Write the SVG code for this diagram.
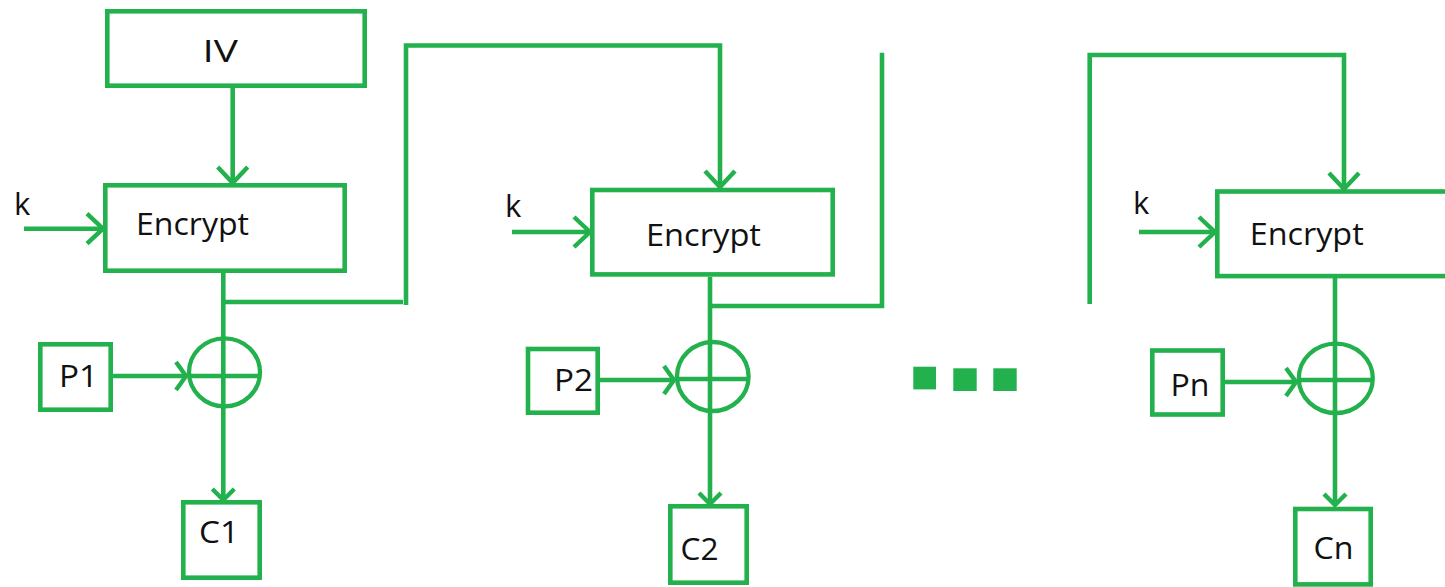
<svg xmlns="http://www.w3.org/2000/svg" width="1445" height="587" viewBox="0 0 1445 587">
<style>
.box{fill:none;stroke:#22b14c;stroke-width:4.6}
.ln{fill:none;stroke:#22b14c;stroke-width:4.6}
.xor{fill:none;stroke:#22b14c;stroke-width:4.3}
.ah{fill:none;stroke:#22b14c;stroke-width:4.4;stroke-linejoin:miter}
.t{font-family:"Open Sans",Lato,"Liberation Sans",sans-serif;font-size:31px;fill:#111}
.dot{fill:#22b14c}
</style>
<defs>
<marker id="big" markerUnits="userSpaceOnUse" viewBox="-30 -30 60 60" markerWidth="60" markerHeight="60" refX="0" refY="0" orient="auto" overflow="visible">
<path class="ah" d="M-17,-15 L-1,0 L-17,15"/>
</marker>
<marker id="sm" markerUnits="userSpaceOnUse" viewBox="-30 -30 60 60" markerWidth="60" markerHeight="60" refX="0" refY="0" orient="auto" overflow="visible">
<path class="ah" d="M-11,-14 L-1,0 L-11,14"/>
</marker>
<marker id="cd" markerUnits="userSpaceOnUse" viewBox="-30 -30 60 60" markerWidth="60" markerHeight="60" refX="0" refY="0" orient="auto" overflow="visible">
<path class="ah" d="M-12,-11 L-1,0 L-12,11"/>
</marker>
</defs>
<rect width="1445" height="587" fill="#fff"/>

<g id="connectors">
<path class="ln" d="M232.7,88 V184" marker-end="url(#big)"/>
<path class="ln" d="M24,228.7 H104" marker-end="url(#big)"/>
<path class="ln" d="M223.3,273 V501" marker-end="url(#cd)"/>
<path class="ln" d="M223,302 H403"/>
<path class="ln" d="M406,305 V45.5 H720 V188" marker-end="url(#big)"/>
<path class="ln" d="M113,376 H187" marker-end="url(#sm)"/>
<path class="ln" d="M512,232 H591" marker-end="url(#big)"/>
<path class="ln" d="M710,276.7 V505" marker-end="url(#cd)"/>
<path class="ln" d="M710,306 H882 V52.7"/>
<path class="ln" d="M600,380 H675" marker-end="url(#sm)"/>
<path class="ln" d="M1089.7,304 V55 H1344 V190" marker-end="url(#big)"/>
<path class="ln" d="M1139,232 H1216" marker-end="url(#big)"/>
<path class="ln" d="M1335,278 V506" marker-end="url(#cd)"/>
<path class="ln" d="M1225,382 H1297" marker-end="url(#sm)"/>
</g>

<g id="iv">
<rect class="box" x="107.3" y="11.3" width="257.4" height="74.4"/>
<text class="t" x="202.5" y="62" textLength="35.5" lengthAdjust="spacingAndGlyphs">IV</text>
</g>

<g id="enc1">
<rect class="box" x="105.3" y="185.3" width="239.4" height="85.4"/>
<text class="t" x="136" y="235" textLength="113" lengthAdjust="spacingAndGlyphs">Encrypt</text>
</g>
<g id="k1"><text class="t" x="14" y="215">k</text></g>
<g id="xor1">
<ellipse class="xor" cx="224.5" cy="372.3" rx="35.5" ry="34"/>
<path class="xor" d="M189,376 H260"/>
</g>
<g id="p1">
<rect class="box" x="40.3" y="344.3" width="70.4" height="65.4"/>
<text class="t" x="59" y="387.3" textLength="39" lengthAdjust="spacingAndGlyphs">P1</text>
</g>
<g id="c1">
<rect class="box" x="183.3" y="502.3" width="76.4" height="75.4"/>
<text class="t" x="199" y="543.3" textLength="40" lengthAdjust="spacingAndGlyphs">C1</text>
</g>

<g id="enc2">
<rect class="box" x="592.3" y="190" width="240.4" height="84.4"/>
<text class="t" x="646" y="246" textLength="115" lengthAdjust="spacingAndGlyphs">Encrypt</text>
</g>
<g id="k2"><text class="t" x="505" y="216.7">k</text></g>
<g id="xor2">
<ellipse class="xor" cx="712.8" cy="376.5" rx="35.8" ry="34.5"/>
<path class="xor" d="M677,379 H748"/>
</g>
<g id="p2">
<rect class="box" x="528" y="349" width="69.7" height="63.7"/>
<text class="t" x="554" y="390.7" textLength="39" lengthAdjust="spacingAndGlyphs">P2</text>
</g>
<g id="c2">
<rect class="box" x="670.3" y="506.3" width="76.4" height="76.4"/>
<text class="t" x="680.5" y="560" textLength="38" lengthAdjust="spacingAndGlyphs">C2</text>
</g>

<g id="ellipsis">
<rect class="dot" x="913.3" y="366.7" width="22.7" height="22.7"/>
<rect class="dot" x="953.3" y="368.3" width="23.4" height="22.7"/>
<rect class="dot" x="993.3" y="368.3" width="23.4" height="22.7"/>
</g>

<g id="encn">
<rect class="box" x="1217.3" y="191.5" width="240" height="84.6"/>
<text class="t" x="1249.7" y="245" textLength="114" lengthAdjust="spacingAndGlyphs">Encrypt</text>
</g>
<g id="kn"><text class="t" x="1133" y="214.4">k</text></g>
<g id="xorn">
<ellipse class="xor" cx="1335.8" cy="378.3" rx="37" ry="34.7"/>
<path class="xor" d="M1299,380 H1373"/>
</g>
<g id="pn">
<rect class="box" x="1152.3" y="350.5" width="70.4" height="64"/>
<text class="t" x="1170.5" y="396" textLength="39" lengthAdjust="spacingAndGlyphs">Pn</text>
</g>
<g id="cn">
<rect class="box" x="1295.3" y="509" width="75.4" height="75.4"/>
<text class="t" x="1313.5" y="559.3" textLength="40" lengthAdjust="spacingAndGlyphs">Cn</text>
</g>
</svg>
